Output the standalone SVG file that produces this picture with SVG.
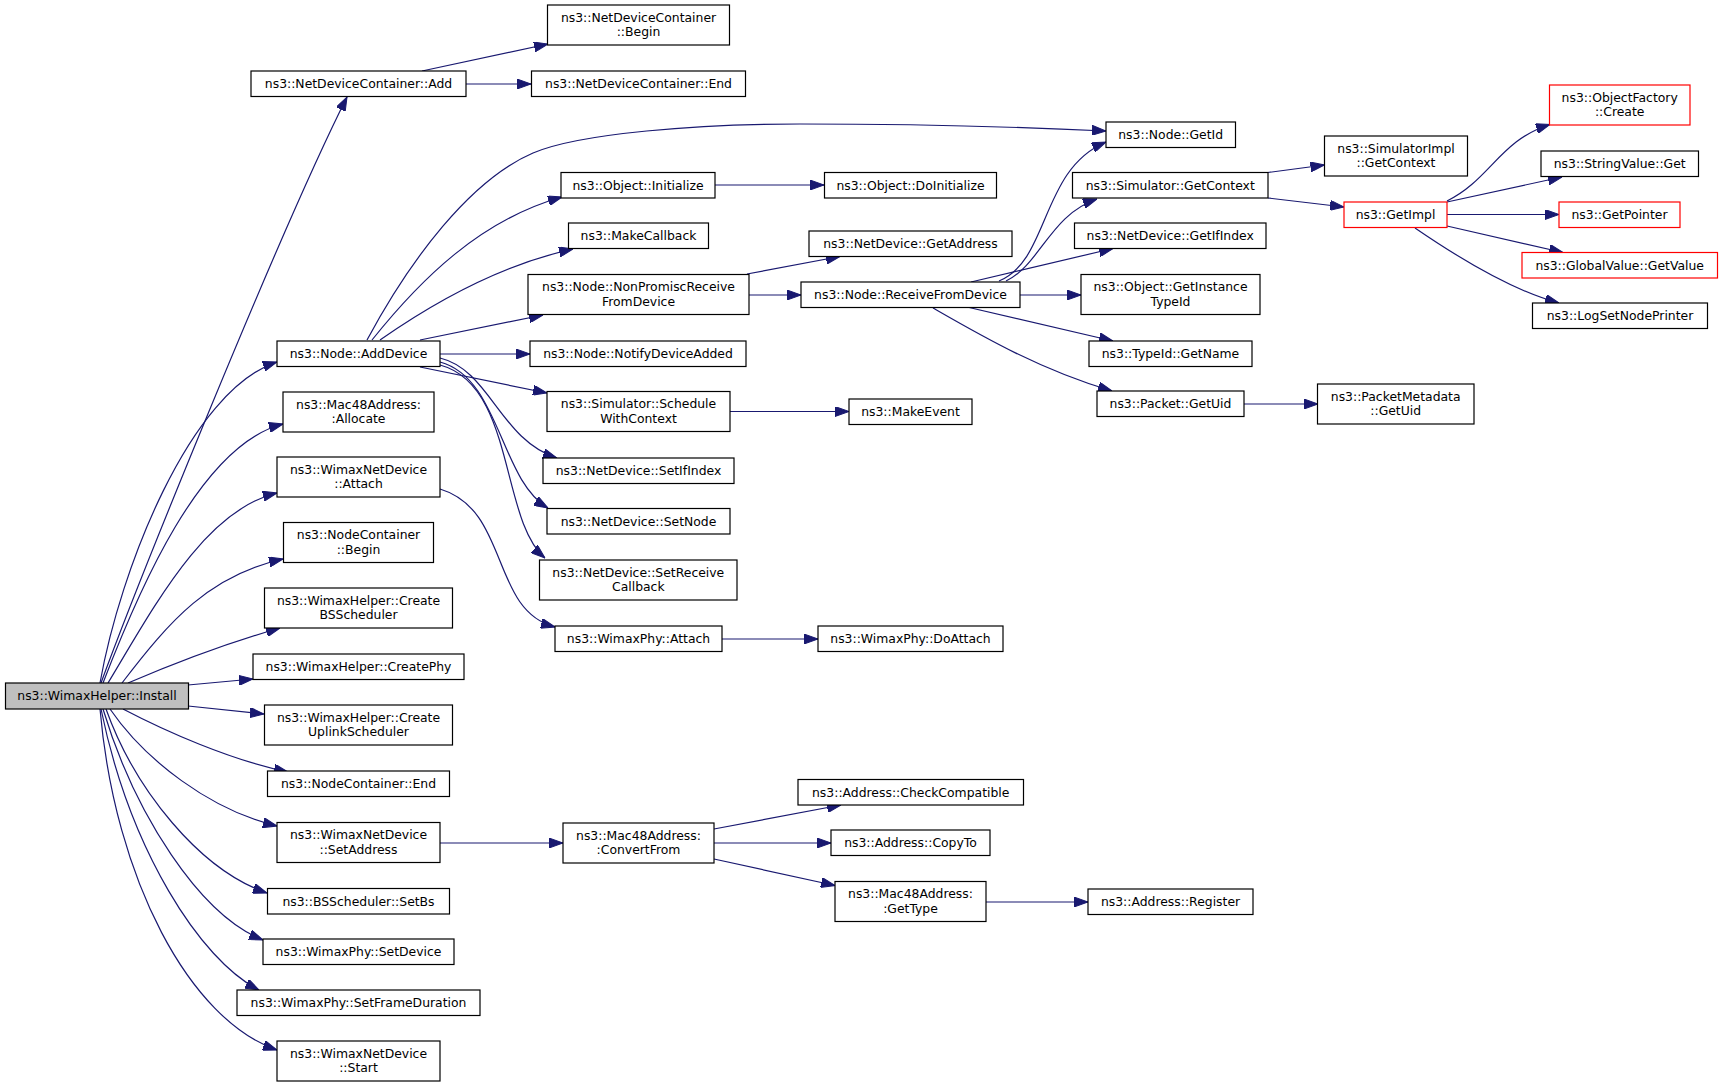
<svg xmlns="http://www.w3.org/2000/svg" width="1723" height="1087" viewBox="0 0 1723 1087">
<style>
.n rect{fill:#fff;stroke:#000;stroke-width:1.2}
.n.r rect{stroke:#f00}
.n.g rect{fill:#bfbfbf}
.n text{font-family:"DejaVu Sans","Liberation Sans",sans-serif;font-size:12.4px;text-anchor:middle;fill:#000}
.e path{fill:none;stroke:#191970;stroke-width:1.2;marker-end:url(#ah)}
</style>
<defs>
<marker id="ah" markerWidth="14" markerHeight="10" refX="14" refY="5" orient="auto" markerUnits="userSpaceOnUse">
<path d="M0,0 L14,5 L0,10 z" fill="#191970" stroke="#191970" stroke-width="1"/>
</marker>
</defs>
<rect width="1723" height="1087" fill="#fff"/>
<g id="edges" class="e">
<path d="M101,683 C135,590 280,230 347,97"/>
<path d="M100,683 C120,570 190,390 277,362"/>
<path d="M103,683 C138,592 200,445 283,424"/>
<path d="M108,683 C155,605 205,510 277,493"/>
<path d="M122,683 C170,620 210,575 283,559"/>
<path d="M128,683 C170,665 220,645 280,628"/>
<path d="M188,685 L253,679"/>
<path d="M188,706 L264,714"/>
<path d="M123,709 C165,731 230,760 288,772"/>
<path d="M110,709 C145,760 210,810 277,826"/>
<path d="M106,709 C135,790 200,870 267,893"/>
<path d="M103,709 C135,815 200,915 263,940"/>
<path d="M101,709 C130,850 200,960 259,990"/>
<path d="M100,709 C115,880 190,1020 277,1050"/>
<path d="M422,71 L548,44"/>
<path d="M466,84 L531,84"/>
<path d="M367,340 C410,260 470,180 533,153 C580,133 700,124 800,124 C900,124 1000,126 1106,131"/>
<path d="M372,340 C420,280 480,220 562,197"/>
<path d="M380,340 C430,305 500,265 573,249"/>
<path d="M420,340 L543,315"/>
<path d="M440,354 L530,354"/>
<path d="M420,367 L547,393"/>
<path d="M440,358 C490,370 500,440 557,458"/>
<path d="M440,362 C500,378 500,480 548,508"/>
<path d="M440,365 C515,385 500,520 545,558"/>
<path d="M440,489 C510,510 490,610 555,627"/>
<path d="M715,185 L824,185"/>
<path d="M747,274 L840,256.5"/>
<path d="M749,295 L801,295"/>
<path d="M730,411.5 L849,411.5"/>
<path d="M722,639 L818,639"/>
<path d="M440,843 L563,843"/>
<path d="M714,829 L841,805"/>
<path d="M714,843 L831,843"/>
<path d="M714,859 L835,885.5"/>
<path d="M986,902 L1088,902"/>
<path d="M999,281 C1050,260 1040,170 1106,142"/>
<path d="M1006,281 C1040,265 1050,215 1097,199"/>
<path d="M971,282 L1113,248.5"/>
<path d="M1020,295 L1081,295"/>
<path d="M967,307 L1113,341"/>
<path d="M933,308 C980,335 1040,370 1112,391"/>
<path d="M1268,172.5 L1324.5,165"/>
<path d="M1268,198 L1344,207"/>
<path d="M1244,404 L1318,404"/>
<path d="M1447,201 C1490,180 1500,140 1550,124.5"/>
<path d="M1447,202 L1562,177"/>
<path d="M1447,214.5 L1559,214.5"/>
<path d="M1447,226 L1563,252.5"/>
<path d="M1415,228 C1450,252 1510,290 1559,303"/>
</g>
<g id="install" class="n g"><rect x="5.5" y="683" width="183" height="26"/><text x="97" y="700">ns3::WimaxHelper::Install</text></g>
<g id="ndc_add" class="n"><rect x="251" y="71" width="215" height="25.5"/><text x="358.5" y="88">ns3::NetDeviceContainer::Add</text></g>
<g id="node_adddevice" class="n"><rect x="277" y="341" width="163" height="25.5"/><text x="358.5" y="358">ns3::Node::AddDevice</text></g>
<g id="mac_allocate" class="n"><rect x="283" y="392" width="151" height="40"/><text x="358.5" y="408.6">ns3::Mac48Address:</text><text x="358.5" y="423.2">:Allocate</text></g>
<g id="wnd_attach" class="n"><rect x="277" y="457" width="163" height="40"/><text x="358.5" y="473.6">ns3::WimaxNetDevice</text><text x="358.5" y="488.2">::Attach</text></g>
<g id="nc_begin" class="n"><rect x="283.5" y="522.5" width="150" height="40"/><text x="358.5" y="539.1">ns3::NodeContainer</text><text x="358.5" y="553.7">::Begin</text></g>
<g id="wh_createbs" class="n"><rect x="264.5" y="588" width="188" height="40"/><text x="358.5" y="604.6">ns3::WimaxHelper::Create</text><text x="358.5" y="619.2">BSScheduler</text></g>
<g id="wh_createphy" class="n"><rect x="253" y="654" width="211" height="25.5"/><text x="358.5" y="671">ns3::WimaxHelper::CreatePhy</text></g>
<g id="wh_createul" class="n"><rect x="264.5" y="705" width="188" height="40"/><text x="358.5" y="721.6">ns3::WimaxHelper::Create</text><text x="358.5" y="736.2">UplinkScheduler</text></g>
<g id="nc_end" class="n"><rect x="267.5" y="771" width="182" height="25.5"/><text x="358.5" y="788">ns3::NodeContainer::End</text></g>
<g id="wnd_setaddress" class="n"><rect x="277" y="822.5" width="163" height="40"/><text x="358.5" y="839.1">ns3::WimaxNetDevice</text><text x="358.5" y="853.7">::SetAddress</text></g>
<g id="bss_setbs" class="n"><rect x="267.5" y="888.5" width="182" height="25.5"/><text x="358.5" y="905.5">ns3::BSScheduler::SetBs</text></g>
<g id="phy_setdevice" class="n"><rect x="263" y="939" width="191" height="25.5"/><text x="358.5" y="956">ns3::WimaxPhy::SetDevice</text></g>
<g id="phy_setframe" class="n"><rect x="237" y="990" width="243" height="25.5"/><text x="358.5" y="1007">ns3::WimaxPhy::SetFrameDuration</text></g>
<g id="wnd_start" class="n"><rect x="277" y="1041" width="163" height="40"/><text x="358.5" y="1057.6">ns3::WimaxNetDevice</text><text x="358.5" y="1072.2">::Start</text></g>
<g id="ndc_begin" class="n"><rect x="547.5" y="5" width="182" height="40"/><text x="638.5" y="21.6">ns3::NetDeviceContainer</text><text x="638.5" y="36.2">::Begin</text></g>
<g id="ndc_end" class="n"><rect x="531.5" y="71" width="214" height="25.5"/><text x="638.5" y="88">ns3::NetDeviceContainer::End</text></g>
<g id="obj_init" class="n"><rect x="561" y="172.5" width="154" height="25.5"/><text x="638" y="189.5">ns3::Object::Initialize</text></g>
<g id="makecallback" class="n"><rect x="568.5" y="223" width="140" height="25.5"/><text x="638.5" y="240">ns3::MakeCallback</text></g>
<g id="node_nonpromisc" class="n"><rect x="528" y="274.5" width="221" height="40"/><text x="638.5" y="291.1">ns3::Node::NonPromiscReceive</text><text x="638.5" y="305.7">FromDevice</text></g>
<g id="node_notify" class="n"><rect x="530" y="341" width="216" height="25.5"/><text x="638" y="358">ns3::Node::NotifyDeviceAdded</text></g>
<g id="sim_schedule" class="n"><rect x="547" y="391.5" width="183" height="40"/><text x="638.5" y="408.1">ns3::Simulator::Schedule</text><text x="638.5" y="422.7">WithContext</text></g>
<g id="nd_setifindex" class="n"><rect x="543" y="458" width="191" height="25.5"/><text x="638.5" y="475">ns3::NetDevice::SetIfIndex</text></g>
<g id="nd_setnode" class="n"><rect x="547" y="508.5" width="183" height="25.5"/><text x="638.5" y="525.5">ns3::NetDevice::SetNode</text></g>
<g id="nd_setreceive" class="n"><rect x="539.5" y="560" width="197.5" height="40"/><text x="638.3" y="576.6">ns3::NetDevice::SetReceive</text><text x="638.3" y="591.2">Callback</text></g>
<g id="phy_attach" class="n"><rect x="555" y="626" width="167" height="25.5"/><text x="638.5" y="643">ns3::WimaxPhy::Attach</text></g>
<g id="mac_convert" class="n"><rect x="563" y="823" width="151" height="40"/><text x="638.5" y="839.6">ns3::Mac48Address:</text><text x="638.5" y="854.2">:ConvertFrom</text></g>
<g id="obj_doinit" class="n"><rect x="824.5" y="172.5" width="172" height="25.5"/><text x="910.5" y="189.5">ns3::Object::DoInitialize</text></g>
<g id="nd_getaddress" class="n"><rect x="809" y="231" width="203" height="25.5"/><text x="910.5" y="248">ns3::NetDevice::GetAddress</text></g>
<g id="node_receive" class="n"><rect x="801" y="282" width="219" height="25.5"/><text x="910.5" y="299">ns3::Node::ReceiveFromDevice</text></g>
<g id="makeevent" class="n"><rect x="849" y="399" width="123" height="25.5"/><text x="910.5" y="416">ns3::MakeEvent</text></g>
<g id="phy_doattach" class="n"><rect x="818" y="626" width="185" height="25.5"/><text x="910.5" y="643">ns3::WimaxPhy::DoAttach</text></g>
<g id="addr_check" class="n"><rect x="798" y="779.5" width="225.5" height="25.5"/><text x="910.7" y="796.5">ns3::Address::CheckCompatible</text></g>
<g id="addr_copyto" class="n"><rect x="831" y="830" width="159" height="25.5"/><text x="910.5" y="847">ns3::Address::CopyTo</text></g>
<g id="mac_gettype" class="n"><rect x="835" y="881.5" width="151" height="40"/><text x="910.5" y="898.1">ns3::Mac48Address:</text><text x="910.5" y="912.7">:GetType</text></g>
<g id="node_getid" class="n"><rect x="1106" y="122" width="129.5" height="25.5"/><text x="1170.7" y="139">ns3::Node::GetId</text></g>
<g id="sim_getcontext" class="n"><rect x="1072.5" y="172.5" width="195.5" height="25.5"/><text x="1170.2" y="189.5">ns3::Simulator::GetContext</text></g>
<g id="nd_getifindex" class="n"><rect x="1074.5" y="223" width="191.5" height="25.5"/><text x="1170.2" y="240">ns3::NetDevice::GetIfIndex</text></g>
<g id="obj_getinstance" class="n"><rect x="1081" y="274.5" width="179" height="40"/><text x="1170.5" y="291.1">ns3::Object::GetInstance</text><text x="1170.5" y="305.7">TypeId</text></g>
<g id="typeid_getname" class="n"><rect x="1089" y="341" width="163" height="25.5"/><text x="1170.5" y="358">ns3::TypeId::GetName</text></g>
<g id="packet_getuid" class="n"><rect x="1097" y="391" width="147" height="25.5"/><text x="1170.5" y="408">ns3::Packet::GetUid</text></g>
<g id="addr_register" class="n"><rect x="1088" y="889" width="165" height="25.5"/><text x="1170.5" y="906">ns3::Address::Register</text></g>
<g id="simimpl_getcontext" class="n"><rect x="1324.5" y="136" width="143" height="40"/><text x="1396" y="152.6">ns3::SimulatorImpl</text><text x="1396" y="167.2">::GetContext</text></g>
<g id="getimpl" class="n r"><rect x="1344" y="202" width="103" height="25.5"/><text x="1395.5" y="219">ns3::GetImpl</text></g>
<g id="pm_getuid" class="n"><rect x="1317.5" y="384" width="156.5" height="40"/><text x="1395.7" y="400.6">ns3::PacketMetadata</text><text x="1395.7" y="415.2">::GetUid</text></g>
<g id="of_create" class="n r"><rect x="1549.5" y="85" width="140.5" height="40"/><text x="1619.7" y="101.6">ns3::ObjectFactory</text><text x="1619.7" y="116.2">::Create</text></g>
<g id="sv_get" class="n"><rect x="1541" y="151" width="157.5" height="25.5"/><text x="1619.7" y="168">ns3::StringValue::Get</text></g>
<g id="getpointer" class="n r"><rect x="1559" y="202" width="121" height="25.5"/><text x="1619.5" y="219">ns3::GetPointer</text></g>
<g id="gv_getvalue" class="n r"><rect x="1522" y="252.5" width="195.5" height="25.5"/><text x="1619.7" y="269.5">ns3::GlobalValue::GetValue</text></g>
<g id="logsetnodeprinter" class="n"><rect x="1532.5" y="303" width="175" height="25.5"/><text x="1620" y="320">ns3::LogSetNodePrinter</text></g>
</svg>
